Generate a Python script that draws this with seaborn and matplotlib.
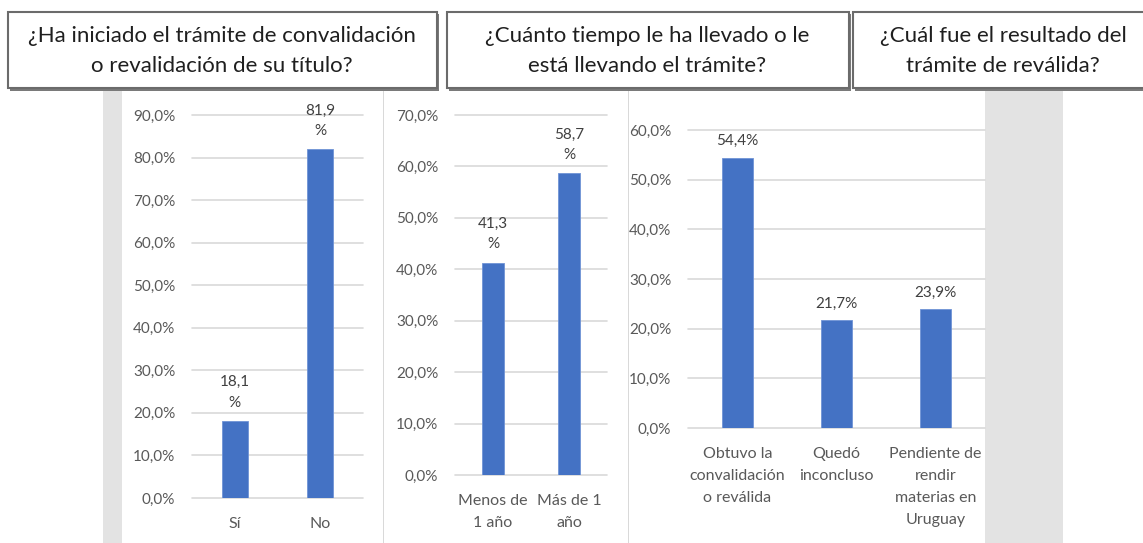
import numpy as np
import pandas as pd
import seaborn as sns
import matplotlib.pyplot as plt
from matplotlib.patches import Rectangle

sns.set_theme(style="white")
plt.rcParams['font.family'] = ['Lato', 'DejaVu Sans']

# datos
titulos = ["¿Ha iniciado el trámite de convalidación\no revalidación de su título?",
           "¿Cuánto tiempo le ha llevado o le\nestá llevando el trámite?",
           "¿Cuál fue el resultado del\ntrámite de reválida?"]

cat_inicio = ["Sí", "No"]
val_inicio = [18.1, 81.9]

cat_tiempo = ["Menos de\n1 año", "Más de 1\naño"]
val_tiempo = [41.3, 58.7]

cat_result = ["Obtuvo la\nconvalidación\no reválida", "Quedó\ninconcluso",
              "Pendiente de\nrendir\nmaterias en\nUruguay"]
val_result = [54.4, 21.7, 23.9]

W, H = 1143, 543
AZUL = "#4472C4"
GRIS_TXT = "#595959"


def px(x0, y0, x1, y1):
    # rectangulo en pixeles (origen arriba a la izquierda) -> fraccion de figura
    return [x0 / W, 1 - y1 / H, (x1 - x0) / W, (y1 - y0) / H]


def rect(fig, x0, y0, x1, y1, **kw):
    l, b, w, h = px(x0, y0, x1, y1)
    fig.add_artist(Rectangle((l, b), w, h, transform=fig.transFigure, **kw))


fig = plt.figure(figsize=(W / 100, H / 100), dpi=100)
fig.patch.set_facecolor("white")

# fondo gris y paneles blancos
rect(fig, 103, 90, 1063, 545, facecolor="#e3e3e3", edgecolor="none", zorder=0)
rect(fig, 122, 90, 985, 545, facecolor="white", edgecolor="none", zorder=0)
for xs in [383, 628]:
    rect(fig, xs, 90, xs + 1, 545, facecolor="#d9d9d9", edgecolor="none", zorder=0)

# cajas de titulos
cajas = [(8, 12, 437, 88), (447, 12, 849, 88), (853, 12, 1160, 88)]
centros = [222, 647, 1003]
for (x0, y0, x1, y1), xc, t in zip(cajas, centros, titulos):
    rect(fig, x0 + 2, y0 + 2, x1 + 2, y1 + 3, facecolor="#7a7a7a", edgecolor="none", zorder=1)
    rect(fig, x0, y0, x1, y1, facecolor="white", edgecolor="#6b6b6b", linewidth=1.5, zorder=2)
    fig.text(xc / W, 1 - ((y0 + y1) / 2 + 1) / H, t, ha="center", va="center",
             fontsize=16, color="#1f1f1f", linespacing=1.65, zorder=3)


def panel(pos, cats, vals, ymax, wrap, width):
    ax = fig.add_axes(px(*pos))
    df = pd.DataFrame({"cat": cats, "val": vals})
    sns.barplot(data=df, x="cat", y="val", color=AZUL, width=width, ax=ax,
                saturation=1, edgecolor="#6f93d6", linewidth=0.6, zorder=3)
    ax.set_ylim(0, ymax)
    ax.set_xlim(-0.5, len(cats) - 0.5)
    ax.set_yticks(np.arange(0, ymax + 1, 10))
    ax.set_yticklabels([f"{t:.1f}%".replace(".", ",") for t in np.arange(0, ymax + 1, 10)])
    ax.grid(axis="y", color="#d9d9d9", linewidth=1.2, zorder=0)
    for gl in ax.get_ygridlines():
        gl.set_clip_on(False)
    ax.set_axisbelow(True)
    sns.despine(ax=ax, left=True, bottom=True)
    ax.set_xlabel("")
    ax.set_ylabel("")
    ax.tick_params(axis="y", length=0, pad=12, labelsize=11, labelcolor=GRIS_TXT)
    ax.tick_params(axis="x", length=0, pad=14, labelsize=11.5, labelcolor=GRIS_TXT)
    for lab in ax.get_xticklabels():
        lab.set_linespacing(1.7)
    etiquetas = [f"{v:.1f}".replace(".", ",") + ("\n%" if wrap else "%") for v in vals]
    ax.bar_label(ax.containers[0], labels=etiquetas, padding=8 if wrap else 7,
                 fontsize=11, color="#404040", linespacing=1.6)
    ax.set_facecolor("none")
    return ax


panel((192, 115, 363, 498), cat_inicio, val_inicio, 90, True, 0.3)
panel((455, 115, 607, 475), cat_tiempo, val_tiempo, 70, True, 0.3)
panel((688, 130, 985, 428), cat_result, val_result, 60, False, 0.31)

fig.savefig("out.png", dpi=100)
